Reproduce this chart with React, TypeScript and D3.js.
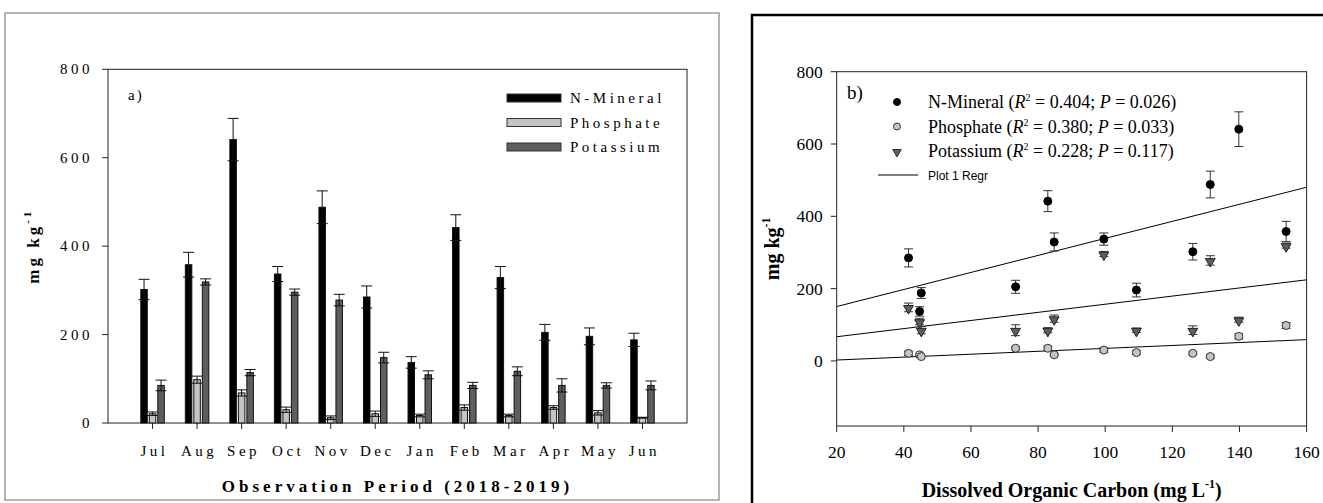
import React from "react";
import * as d3 from "d3";

// monthly soil nutrient values (mg kg-1) and standard errors
const months = ["Jul", "Aug", "Sep", "Oct", "Nov", "Dec", "Jan", "Feb", "Mar", "Apr", "May", "Jun"];
const nMineral = [302, 358, 641, 337, 488, 285, 137, 442, 329, 205, 196, 188];
const nMineralErr = [23, 28, 48, 17, 37, 25, 13, 29, 25, 18, 19, 15];
const phosphate = [21, 98, 68, 30, 12, 21, 17, 35, 17, 35, 23, 12];
const phosphateErr = [4, 8, 7, 6, 4, 6, 3, 6, 3, 4, 5, 1];
const potassium = [85, 319, 114, 296, 278, 148, 109, 85, 117, 85, 85, 85];
const potassiumErr = [12, 7, 7, 7, 13, 12, 9, 7, 10, 15, 6, 10];
// dissolved organic carbon (mg L-1) for the same months
const doc = [126.1, 153.9, 139.8, 99.6, 131.3, 41.4, 44.7, 82.9, 84.8, 73.3, 109.3, 45.2];

const yTicksA = [0, 200, 400, 600, 800];
const yTicksB = [0, 200, 400, 600, 800];
const xTicksB = [20, 40, 60, 80, 100, 120, 140, 160];

const seriesNames = ["N-Mineral", "Phosphate", "Potassium"];
const fills = ["#000000", "#c4c4c4", "#5e5e5e"];
const stats = [
  { r2: "0.404", p: "0.026" },
  { r2: "0.380", p: "0.033" },
  { r2: "0.228", p: "0.117" },
];

const serif = "'Liberation Serif', 'Times New Roman', serif";

function linreg(xs: number[], ys: number[]) {
  const mx = d3.mean(xs) as number;
  const my = d3.mean(ys) as number;
  let sxy = 0, sxx = 0;
  xs.forEach((x, i) => {
    sxy += (x - mx) * (ys[i] - my);
    sxx += (x - mx) * (x - mx);
  });
  const slope = sxy / sxx;
  return { slope, intercept: my - slope * mx };
}

function ErrBar({ x, y0, y1, w, color }: { x: number; y0: number; y1: number; w: number; color: string }) {
  return (
    <g stroke={color} strokeWidth={1}>
      <line x1={x} x2={x} y1={y0} y2={y1} />
      <line x1={x - w / 2} x2={x + w / 2} y1={y0} y2={y0} />
      <line x1={x - w / 2} x2={x + w / 2} y1={y1} y2={y1} />
    </g>
  );
}

export default function App() {
  // panel a
  const xa = d3.scaleLinear().domain([0, 13]).range([108, 687]);
  const ya = d3.scaleLinear().domain([0, 800]).range([423, 69.3]);
  const vals = [nMineral, phosphate, potassium];
  const errs = [nMineralErr, phosphateErr, potassiumErr];
  const offsets = [-8.5, 0, 8.5];
  const barW = 6.5;

  // panel b
  const xb = d3.scaleLinear().domain([20, 160]).range([836.7, 1306.6]);
  const yb = d3.scaleLinear().domain([-180, 800]).range([426, 71.7]);
  const regs = vals.map((v) => linreg(doc, v));
  const tri = d3.symbol(d3.symbolTriangle, 42)() as string;

  const marker = (k: number, cx: number, cy: number, r = 4) => {
    if (k === 0) return <circle cx={cx} cy={cy} r={r} fill="#000" stroke="#000" />;
    if (k === 1) return <circle cx={cx} cy={cy} r={r} fill="#c4c4c4" stroke="#333" strokeWidth={1} />;
    return (
      <path d={tri} transform={`translate(${cx},${cy + 1}) rotate(180) scale(${r / 4})`} fill="#5e5e5e" stroke="#222" strokeWidth={1} />
    );
  };

  return (
    <svg
      width={1323}
      height={503}
      style={{ position: "absolute", left: 0, top: 0, display: "block", background: "#fff" }}
      fontFamily={serif}
    >
      {/* ---------- panel a ---------- */}
      <rect x={5} y={13} width={714} height={487} fill="none" stroke="#6a6a6a" strokeWidth={1} />
      <rect x={xa(0)} y={ya(800)} width={xa(13) - xa(0)} height={ya(0) - ya(800)} fill="none" stroke="#222" strokeWidth={1} />

      {yTicksA.map((t) => (
        <g key={"ya" + t}>
          <line x1={xa(0) - 6} x2={xa(0)} y1={ya(t)} y2={ya(t)} stroke="#222" />
          <text x={xa(0) - 15} y={ya(t) + 5} textAnchor="end" fontSize={15} letterSpacing={3.5}>
            {t}
          </text>
        </g>
      ))}
      {months.map((m, i) => (
        <g key={"xa" + m}>
          <line x1={xa(i + 1)} x2={xa(i + 1)} y1={ya(0)} y2={ya(0) + 6} stroke="#222" />
          <text x={xa(i + 1) + 2} y={456} textAnchor="middle" fontSize={15} letterSpacing={3.5}>
            {m}
          </text>
        </g>
      ))}

      {vals.map((series, k) =>
        series.map((v, i) => {
          const cx = xa(i + 1) + offsets[k];
          return (
            <g key={`bar${k}-${i}`}>
              <rect x={cx - barW / 2} y={ya(v)} width={barW} height={ya(0) - ya(v)} fill={fills[k]} stroke="#111" strokeWidth={1} />
              <ErrBar x={cx} y0={ya(v + errs[k][i])} y1={ya(v - errs[k][i])} w={11} color="#111" />
            </g>
          );
        })
      )}

      <text x={128} y={100} fontSize={15} letterSpacing={2}>a)</text>

      {seriesNames.map((s, k) => (
        <g key={"lega" + s}>
          <rect x={507} y={94 + k * 24.5} width={54} height={8} fill={fills[k]} stroke="#333" strokeWidth={1} />
          <text x={570} y={103 + k * 24.5} fontSize={15} letterSpacing={3.5}>
            {s}
          </text>
        </g>
      ))}

      <text
        transform={`translate(39,${(ya(0) + ya(800)) / 2}) rotate(-90)`}
        textAnchor="middle"
        fontSize={17}
        fontWeight="bold"
        letterSpacing={3}
      >
        mg kg<tspan fontSize={11} dy={-8}>-1</tspan>
      </text>
      <text x={(xa(0) + xa(13)) / 2} y={492} textAnchor="middle" fontSize={17} fontWeight="bold" letterSpacing={4}>
        Observation Period (2018-2019)
      </text>

      {/* ---------- panel b ---------- */}
      <path d="M752,503 L752,15 L1323,15" fill="none" stroke="#000" strokeWidth={2.5} />
      <rect x={xb(20)} y={yb(800)} width={xb(160) - xb(20)} height={yb(-180) - yb(800)} fill="none" stroke="#222" strokeWidth={1} />

      {yTicksB.map((t) => (
        <g key={"yb" + t}>
          <line x1={xb(20) - 6} x2={xb(20)} y1={yb(t)} y2={yb(t)} stroke="#222" />
          <text x={xb(20) - 14} y={yb(t) + 6} textAnchor="end" fontSize={17.5}>
            {t}
          </text>
        </g>
      ))}
      {xTicksB.map((t) => (
        <g key={"xb" + t}>
          <line x1={xb(t)} x2={xb(t)} y1={yb(-180)} y2={yb(-180) + 6} stroke="#222" />
          <text x={xb(t)} y={458} textAnchor="middle" fontSize={17.5}>
            {t}
          </text>
        </g>
      ))}

      <defs>
        <clipPath id="clipb">
          <rect x={xb(20)} y={yb(800)} width={xb(160) - xb(20)} height={yb(-180) - yb(800)} />
        </clipPath>
      </defs>
      <g clipPath="url(#clipb)">
        {regs.map((r, k) => (
          <line
            key={"reg" + k}
            x1={xb(20)}
            x2={xb(160)}
            y1={yb(r.intercept + r.slope * 20)}
            y2={yb(r.intercept + r.slope * 160)}
            stroke="#000"
            strokeWidth={1}
          />
        ))}
      </g>

      {[2, 1, 0].map((k) =>
        doc.map((d, i) => (
          <g key={`pt${k}-${i}`}>
            <ErrBar x={xb(d)} y0={yb(vals[k][i] + errs[k][i])} y1={yb(vals[k][i] - errs[k][i])} w={9} color="#333" />
            {marker(k, xb(d), yb(vals[k][i]))}
          </g>
        ))
      )}

      <text x={847} y={99} fontSize={19}>b)</text>
      {seriesNames.map((s, k) => (
        <g key={"legb" + s}>
          {marker(k, 897, 102 + k * 24.5, 3.5)}
          <text x={928} y={108 + k * 24.5} fontSize={18}>
            {s} (<tspan fontStyle="italic">R</tspan>
            <tspan fontSize={10} dy={-7}>2</tspan>
            <tspan dy={7}> = {stats[k].r2}; </tspan>
            <tspan fontStyle="italic">P</tspan> = {stats[k].p})
          </text>
        </g>
      ))}
      <line x1={878} x2={918} y1={175} y2={175} stroke="#000" strokeWidth={1} />
      <text x={928} y={180} fontSize={12} fontFamily="'Liberation Sans', Arial, sans-serif">
        Plot 1 Regr
      </text>

      <text
        transform={`translate(779,${(yb(-180) + yb(800)) / 2}) rotate(-90)`}
        textAnchor="middle"
        fontSize={20}
        fontWeight="bold"
      >
        mg kg<tspan fontSize={12} dy={-9}>-1</tspan>
      </text>
      <text x={(xb(20) + xb(160)) / 2} y={497} textAnchor="middle" fontSize={20} fontWeight="bold">
        Dissolved Organic Carbon (mg L<tspan fontSize={12} dy={-9}>-1</tspan>
        <tspan dy={9}>)</tspan>
      </text>
    </svg>
  );
}
